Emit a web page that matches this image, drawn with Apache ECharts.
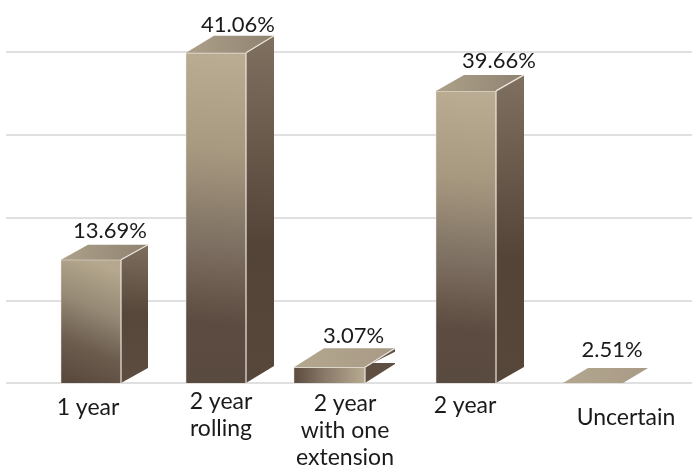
<!DOCTYPE html>
<html><head><meta charset="utf-8">
<style>html,body{margin:0;padding:0;background:#fff}#c{width:692px;height:468px}</style>
<script src="https://cdn.jsdelivr.net/npm/echarts@6/dist/echarts.min.js"></script>
</head><body><div id="c"></div>
<script>
const categories = ['1 year','2 year\nrolling','2 year\nwith one\nextension','2 year','Uncertain'];
const barHeights = [14.9, 39.9, 1.9, 35.3, 0];
const valueLabels = ['13.69%','41.06%','3.07%','39.66%','2.51%'];

// Layout tweaks per bar, kept apart from the data
const barShift = [0, 0, -11.5, 0, 2];
const barWidth = [60, 60, 71, 60, 60];
const depthX = [27, 28, 30, 28, 25];
const depthY = [15, 17, 19, 16, 15];
const labelDx = [19, 22, 24, 33, 19];
const labelDy = [29, 28, 31, 30, 33];
const tickShift = [-3, 5, 4, -1, 35];
const tickTop = [6, 0, 2, 4, 16];

const FONT = 'Lato';
const lin = (x,y,x2,y2,stops)=>({type:'linear',x,y,x2,y2,colorStops:stops.map((c,i)=>({offset:c[0],color:c[1]}))});

function renderBar(params, api){
  const i = params.dataIndex;
  const base = api.coord([api.value(0), 0]);
  const top = api.coord([api.value(0), api.value(1)]);
  const w = barWidth[i], dx = depthX[i], dy = depthY[i];
  const xl = base[0] + barShift[i] - w/2, xr = xl + w;
  const yt = top[1], yb = base[1];
  const kids = [];
  const h = yb - yt;
  const edge = {stroke:'#ece7df', lineWidth:1.2};
  if (h > 1) {
    let frontFill;
    if (h > 200) frontFill = lin(0.8,0,0.35,1,[[0,'#baad93'],[0.3,'#a79980'],[0.58,'#7e7062'],[0.82,'#5c4b40'],[1,'#594a3f']]);
    else if (h > 40) frontFill = lin(1,0.1,0.25,1,[[0,'#b5a88e'],[0.35,'#978a76'],[0.7,'#6b5c4e'],[1,'#5a4a3e']]);
    else frontFill = lin(1,0,0,0,[[0,'#b8ab92'],[0.55,'#8a7b6a'],[1,'#5c4b3f']]);
    let sideFill;
    if (h > 200) sideFill = lin(0.7,0,0.3,1,[[0,'#7f7060'],[0.3,'#6a5a4c'],[0.6,'#544337'],[1,'#57473b']]);
    else if (h > 40) sideFill = lin(0.7,0,0.3,1,[[0,'#7d6e5e'],[0.5,'#57473a'],[1,'#5d4d40']]);
    else sideFill = '#5f4f42';
    kids.push({type:'polygon',shape:{points:[[xr,yt],[xr+dx,yt-dy],[xr+dx,yb-dy],[xr,yb]]},style:{fill:sideFill}});
    if (i === 2) {
      kids.push({type:'polygon',shape:{points:[[xr+1,yt-1],[xr+dx+3,yt-dy+2],[xr+dx+3,yb-dy-1],[xr+7,yb-dy-1]]},style:{fill:'#ffffff'}});
    }
    kids.push({type:'rect',shape:{x:xl,y:yt,width:w,height:h},style:{fill:frontFill}});
    kids.push({type:'line',shape:{x1:xr,y1:yt,x2:xr,y2:yb},style:edge});
    kids.push({type:'line',shape:{x1:xl,y1:yt,x2:xr,y2:yt},style:edge});
    kids.push({type:'line',shape:{x1:xl,y1:yt,x2:xl,y2:yb},style:{stroke:'#e9e3da',lineWidth:0.5}});
  }
  const topFill = h > 40
    ? lin(0,0,1,0,[[0,'#aea18a'],[1,'#8f8271']])
    : lin(0,0,1,0,[[0,'#b4a78f'],[1,'#a89a85']]);
  kids.push({type:'polygon',shape:{points:[[xl,yt],[xl+dx,yt-dy],[xr+dx,yt-dy],[xr,yt]]},style:{fill:topFill}});
  if (h > 1) kids.push({type:'line',shape:{x1:xr,y1:yt,x2:xr+dx,y2:yt-dy},style:edge});
  kids.push({type:'text',style:{text:valueLabels[i],x:base[0]+barShift[i]+labelDx[i],y:yt-labelDy[i],
    align:'center',verticalAlign:'middle',fill:'#1a1a1a',font:'22px '+FONT}});
  return {type:'group',children:kids};
}

const tickData = categories.map((c,i)=>({
  value:c,
  textStyle:{padding:[tickTop[i],tickShift[i]<0?-2*tickShift[i]:0,0,tickShift[i]>0?2*tickShift[i]:0]}
}));

const chart = echarts.init(document.getElementById('c'),null,{renderer:'canvas'});
chart.setOption({
  animation:false,
  backgroundColor:'#fff',
  grid:[{left:6,right:0,top:52,bottom:85,outerBoundsMode:'none'},{left:28.5,right:38.5,top:52,bottom:85,outerBoundsMode:'none'}],
  xAxis:[
    {gridIndex:0,type:'category',data:categories,show:false},
    {gridIndex:1,type:'category',data:tickData,
     axisLine:{show:false},axisTick:{show:false},
     axisLabel:{interval:0,color:'#1a1a1a',fontFamily:FONT,fontSize:23,lineHeight:27,margin:5,hideOverlap:false}}
  ],
  yAxis:[
    {gridIndex:0,type:'value',min:0,max:40,interval:10,axisLabel:{show:false},axisLine:{show:false},axisTick:{show:false},
     splitLine:{show:true,lineStyle:{color:'#e0e0e0',width:2}}},
    {gridIndex:1,type:'value',min:0,max:40,interval:10,show:false,splitLine:{show:false}}
  ],
  series:[{
    type:'custom',xAxisIndex:1,yAxisIndex:1,clip:false,
    data:barHeights.map((v,i)=>[i,v]),
    encode:{x:0,y:1},
    renderItem:renderBar
  }]
});
</script></body></html>
